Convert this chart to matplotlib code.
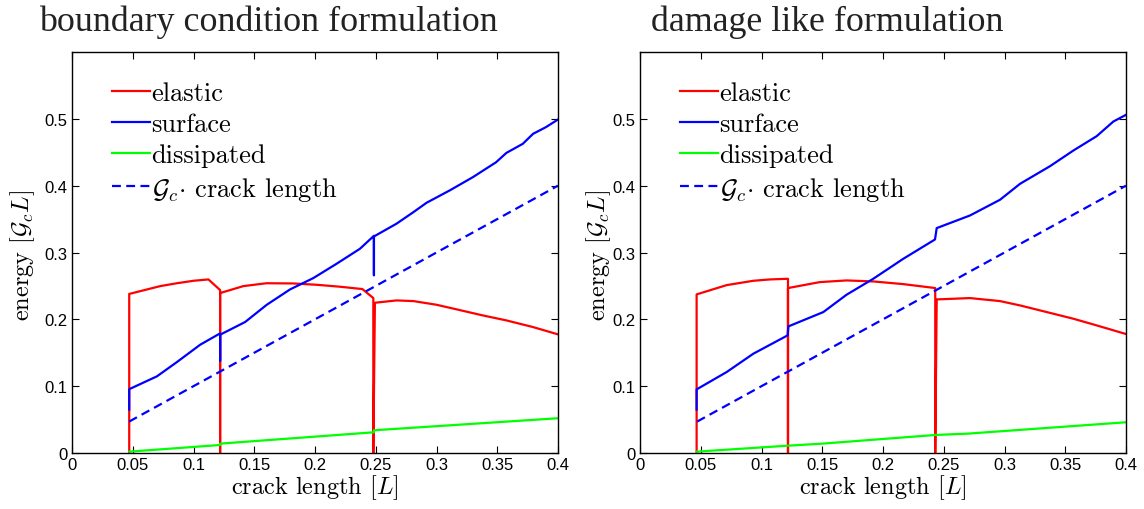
import matplotlib
matplotlib.use("Agg")
import matplotlib.pyplot as plt

plt.rcParams['mathtext.fontset'] = 'cm'
plt.rcParams['axes.formatter.use_mathtext'] = False

# ---------- data: boundary condition formulation ----------
bc_el_x = [0.0471, 0.0471, 0.0726, 0.0863, 0.1000, 0.1123, 0.1219, 0.1219, 0.1219,
           0.1410, 0.1600, 0.1820, 0.2014, 0.2205, 0.2390, 0.2480, 0.2480, 0.2493,
           0.2670, 0.2810, 0.3000, 0.3190, 0.3380, 0.3575, 0.3795, 0.4000]
bc_el_y = [0.0, 0.238, 0.2497, 0.254, 0.2577, 0.2597, 0.2438, 0.0, 0.2393,
           0.2497, 0.254, 0.2537, 0.2517, 0.2488, 0.2453, 0.2318, 0.0, 0.2248,
           0.2283, 0.2273, 0.2218, 0.2139, 0.2059, 0.1984, 0.1884, 0.1775]

bc_su_x = [0.0471, 0.0471, 0.0699, 0.0863, 0.1055, 0.1219, 0.1219, 0.1219, 0.1425,
           0.1603, 0.1795, 0.1986, 0.2178, 0.2370, 0.2485, 0.2485, 0.2485, 0.2670,
           0.2810, 0.2918, 0.3110, 0.3300, 0.3490, 0.3575, 0.3710, 0.3795, 0.3900, 0.4000]
bc_su_y = [0.065, 0.0955, 0.1147, 0.136, 0.162, 0.179, 0.138, 0.177, 0.196,
           0.2218, 0.2448, 0.2617, 0.2832, 0.3056, 0.325, 0.266, 0.324, 0.343,
           0.3604, 0.3744, 0.393, 0.4128, 0.435, 0.449, 0.4626, 0.4776, 0.4875, 0.499]

bc_di_x = [0.0471, 0.1219, 0.1219, 0.2485, 0.2485, 0.4000]
bc_di_y = [0.002, 0.012, 0.014, 0.031, 0.034, 0.052]

# ---------- data: damage like formulation ----------
dm_el_x = [0.0466, 0.0466, 0.0713, 0.0933, 0.1070, 0.1218, 0.1218, 0.1218, 0.1480,
           0.1700, 0.1920, 0.2167, 0.2430, 0.2430, 0.2442, 0.2716, 0.2963, 0.3128,
           0.3347, 0.3567, 0.3759, 0.4000]
dm_el_y = [0.0, 0.2373, 0.2512, 0.2577, 0.2597, 0.2607, 0.0, 0.2468, 0.2557,
           0.2582, 0.2567, 0.2527, 0.2468, 0.0, 0.2298, 0.2318, 0.2273, 0.2208,
           0.2109, 0.2009, 0.1909, 0.178]

dm_su_x = [0.0466, 0.0466, 0.0713, 0.0933, 0.1215, 0.1221, 0.1509, 0.1700, 0.1920,
           0.2167, 0.2428, 0.2442, 0.2716, 0.2963, 0.3128, 0.3375, 0.3567, 0.3759,
           0.3896, 0.4000]
dm_su_y = [0.065, 0.0952, 0.1211, 0.1486, 0.176, 0.1894, 0.2109, 0.2368, 0.2607,
           0.2906, 0.3195, 0.3365, 0.3554, 0.3789, 0.4028, 0.4292, 0.4526, 0.4741,
           0.496, 0.506]

dm_di_x = [0.0466, 0.1221, 0.1500, 0.2433, 0.2700, 0.4000]
dm_di_y = [0.002, 0.011, 0.014, 0.027, 0.029, 0.046]

gc_x = [0.047, 0.4]
gc_y = [0.047, 0.4]

titles = ["boundary condition formulation", "damage like formulation"]
xticks = [0, 0.05, 0.1, 0.15, 0.2, 0.25, 0.3, 0.35, 0.4]
xticklabels = ["0", "0.05", "0.1", "0.15", "0.2", "0.25", "0.3", "0.35", "0.4"]
yticks = [0, 0.1, 0.2, 0.3, 0.4, 0.5]
yticklabels = ["0", "0.1", "0.2", "0.3", "0.4", "0.5"]
labels = ["elastic", "surface", "dissipated", r"$\mathcal{G}_c{\cdot}$ crack length"]

W, H = 1144, 510
fig = plt.figure(figsize=(W / 100, H / 100), dpi=100)

panels = [
    (72, 558, 268, (bc_el_x, bc_el_y), (bc_su_x, bc_su_y), (bc_di_x, bc_di_y), 23),
    (640, 1126, 827, (dm_el_x, dm_el_y), (dm_su_x, dm_su_y), (dm_di_x, dm_di_y), 599),
]
top, bottom = 53, 454
for i, (l, r, tcx, el, su, di, ylx) in enumerate(panels):
    ax = fig.add_axes([l / W, (H - bottom) / H, (r - l) / W, (bottom - top) / H])
    lw = 1.6
    ax.plot(*el, color='#ff0000', lw=lw, label=labels[0])
    ax.plot(*su, color='#0000ff', lw=lw, label=labels[1])
    ax.plot(*di, color='#00ff00', lw=lw, label=labels[2])
    ax.plot(gc_x, gc_y, color='#0000ff', lw=lw, ls=(0, (4.0, 2.4)), label=labels[3])
    ax.set_xlim(0, 0.4)
    ax.set_ylim(0, 0.6)
    ax.set_xticks(xticks)
    ax.set_xticklabels(xticklabels, family='Liberation Sans', fontsize=12)
    ax.set_yticks(yticks)
    ax.set_yticklabels(yticklabels, family='Liberation Sans', fontsize=12)
    ax.tick_params(direction='in', top=True, right=True, length=5, width=0.8,
                   pad=3, colors='black')
    for s in ax.spines.values():
        s.set_linewidth(1.0)
    ax.set_xlabel(r"crack length $[L]$", family='cmr10', fontsize=17.5, labelpad=0)
    fig.text(ylx / W, 255 / H, r"energy $[\mathcal{G}_c L]$", rotation=90,
             family='cmr10', fontsize=17.5, ha='center', va='center')
    fig.text(tcx / W, (H - 31) / H, titles[i], family='Liberation Serif',
             fontsize=25.8, ha='center', va='baseline', color='#222222')
    leg = ax.legend(loc='upper left', bbox_to_anchor=(0.055, 0.96), frameon=False,
                    prop={'family': 'cmr10', 'size': 19}, handlelength=1.45,
                    handletextpad=0.05, labelspacing=0.28, borderpad=0)

fig.savefig("out.png", dpi=100)
